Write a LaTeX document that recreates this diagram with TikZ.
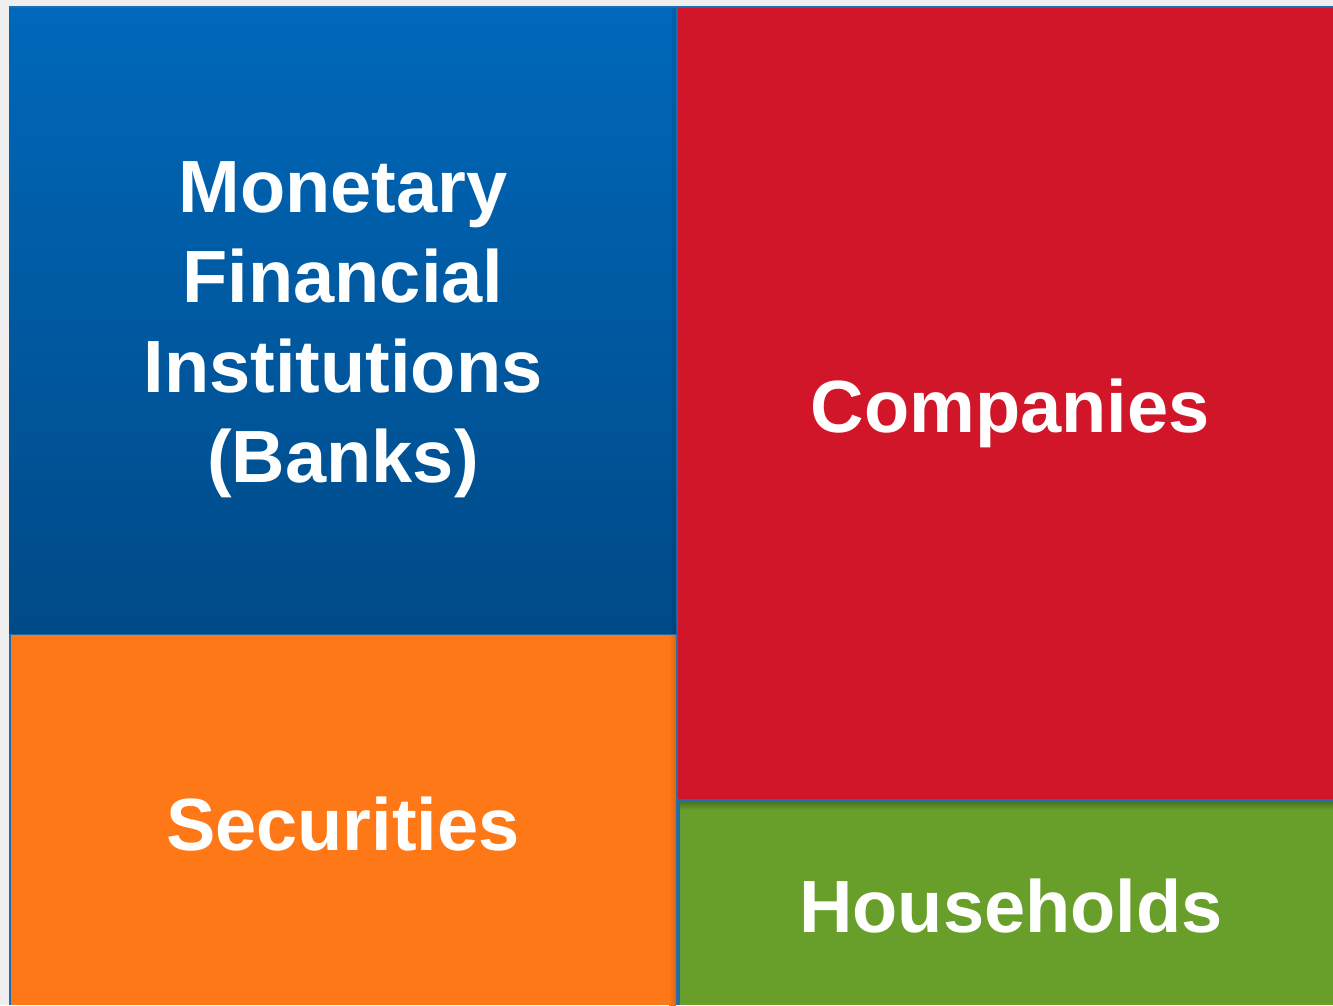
\documentclass[tikz,border=0pt]{standalone}
\usepackage{fontspec}
\setmainfont{Liberation Sans}
\definecolor{bggray}{HTML}{EFEFEF}
\definecolor{sepblue}{HTML}{1F6DB0}
\definecolor{bluetop}{HTML}{0068BA}
\definecolor{bluebot}{HTML}{004A87}
\definecolor{tilered}{HTML}{D21629}
\definecolor{tileorange}{HTML}{FF7818}
\definecolor{tilegreen}{HTML}{689F2A}
\tikzset{
  label/.style={text=white, font=\bfseries\fontsize{74}{90}\selectfont, inner sep=0pt, align=center},
}
\begin{document}
\begin{tikzpicture}[x=1pt,y=-1pt]
\useasboundingbox (0,0) rectangle (1333,1005);
\fill[bggray] (0,0) rectangle (1333,1005);
\fill[sepblue] (9,6) rectangle (1333,1005);
% tiles
\shade[top color=bluetop, bottom color=bluebot] (9,8) rectangle (676,633);
\fill[tilered] (678,8) rectangle (1333,799);
\fill[tileorange] (11,635) rectangle (676,1005);
\fill[tilegreen] (680,802) rectangle (1333,1005);
% subtle shadows
\shade[top color=bluetop!88!black, bottom color=bluebot!88!black, opacity=0.6] (672,8) rectangle (676,633);
\shade[left color=tileorange, right color=tileorange!85!black] (669,635) rectangle (676,1005);
\shade[top color=tilegreen!75!black, bottom color=tilegreen] (680,802) rectangle (1333,810);
% labels
\node[label] (mfi) at (343,330) {Monetary\\Financial\\Institutions\\(Banks)};
\node[label, anchor=base] (companies) at (1010,432) {Companies};
\node[label, anchor=base] (securities) at (343,850) {Securities};
\node[label, anchor=base] (households) at (1011,932) {Households};
\end{tikzpicture}
\end{document}
